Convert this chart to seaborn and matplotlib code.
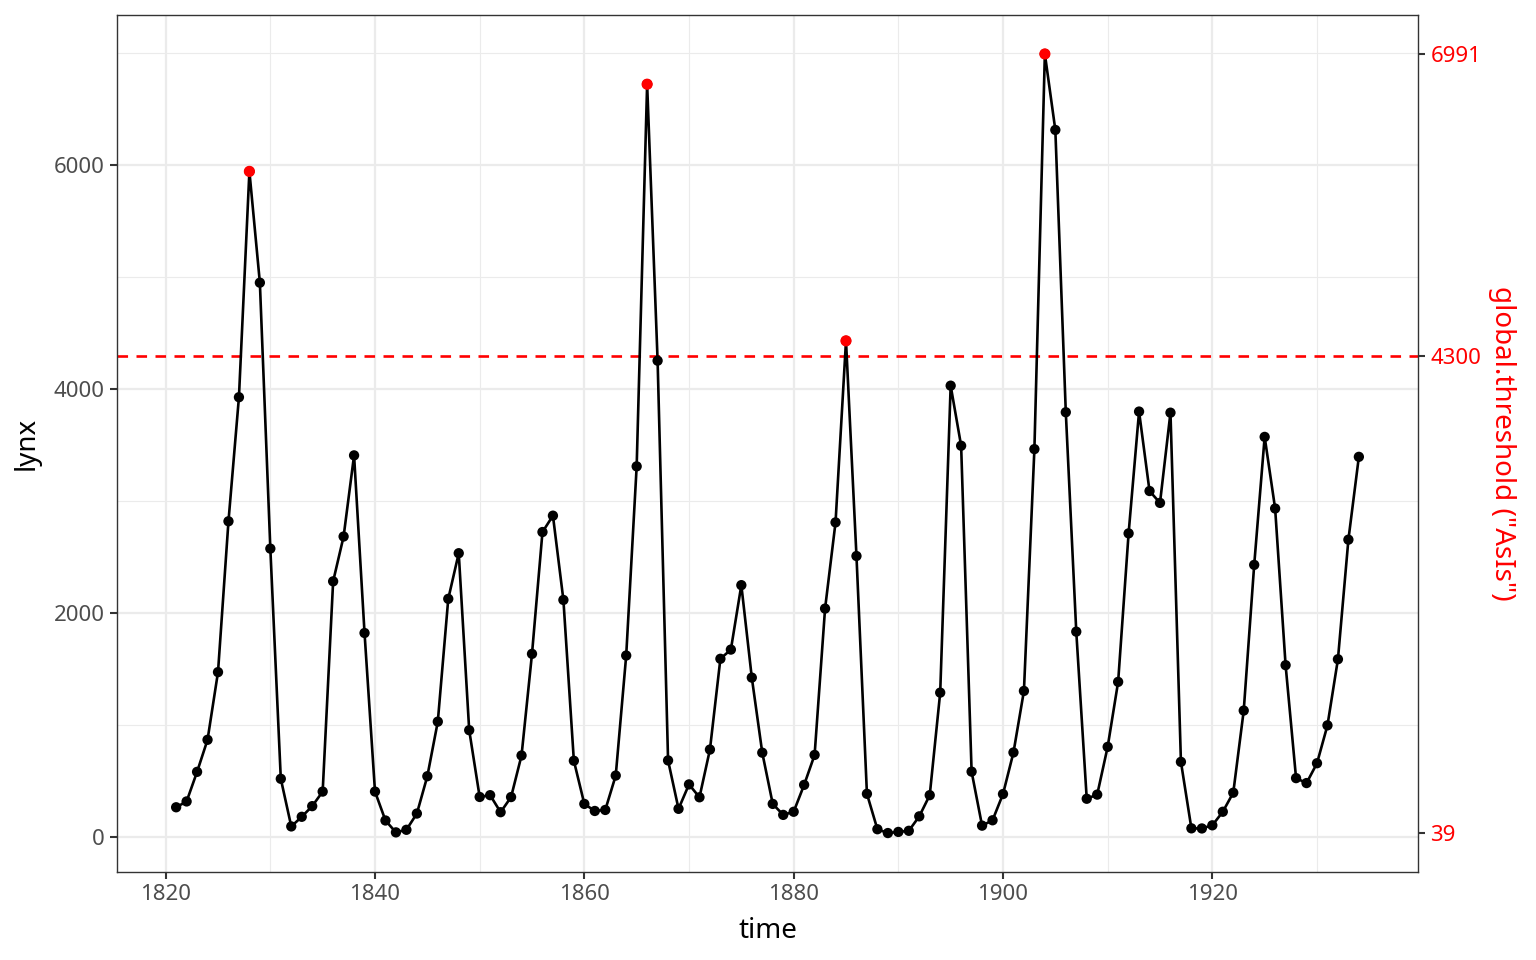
import numpy as np
import pandas as pd
import matplotlib
matplotlib.use("Agg")
import matplotlib.pyplot as plt
from matplotlib.ticker import FixedLocator
import seaborn as sns

years = list(range(1821, 1935))
lynx = [269, 321, 585, 871, 1475, 2821, 3928, 5943, 4950, 2577, 523, 98, 184, 279, 409,
        2285, 2685, 3409, 1824, 409, 151, 45, 68, 213, 546, 1033, 2129, 2536, 957, 361,
        377, 225, 360, 731, 1638, 2725, 2871, 2119, 684, 299, 236, 245, 552, 1623, 3311,
        6721, 4254, 687, 255, 473, 358, 784, 1594, 1676, 2251, 1426, 756, 299, 201, 229,
        469, 736, 2042, 2811, 4431, 2511, 389, 73, 39, 49, 59, 188, 377, 1292, 4031,
        3495, 587, 105, 153, 387, 758, 1307, 3465, 6991, 6313, 3794, 1836, 345, 382, 808,
        1388, 2713, 3800, 3091, 2985, 3790, 674, 81, 80, 108, 229, 399, 1132, 2432, 3574,
        2935, 1537, 529, 485, 662, 1000, 1590, 2657, 3396]
peak_years = [1828, 1866, 1885, 1904]
threshold = 4300
right_ticks = [39, 4300, 6991]
x_ticks = [1820, 1840, 1860, 1880, 1900, 1920]
y_ticks = [0, 2000, 4000, 6000]

df = pd.DataFrame({"time": years, "lynx": lynx})
peaks = df[df["time"].isin(peak_years)]

sns.set_theme(style="white")
plt.rcParams["font.family"] = ["Noto Sans", "DejaVu Sans"]

fig = plt.figure(figsize=(15.36, 9.6), dpi=100)
ax = fig.add_axes([117/1536, 1-872/960, (1418-117)/1536, (872-15)/960])

xmin, xmax = min(years), max(years)
xr = xmax - xmin
ymin, ymax = min(lynx), max(lynx)
yr = ymax - ymin
ax.set_xlim(xmin - 0.05*xr, xmax + 0.05*xr)
ax.set_ylim(ymin - 0.05*yr, ymax + 0.05*yr)

ax.xaxis.set_major_locator(FixedLocator(x_ticks))
ax.yaxis.set_major_locator(FixedLocator(y_ticks))
ax.xaxis.set_minor_locator(FixedLocator([1830, 1850, 1870, 1890, 1910, 1930]))
ax.yaxis.set_minor_locator(FixedLocator([1000, 3000, 5000, 7000]))
ax.grid(True, which="major", color="#EBEBEB", linewidth=1.6, zorder=0)
ax.grid(True, which="minor", color="#EBEBEB", linewidth=0.8, zorder=0)
ax.set_axisbelow(True)

ax.axhline(threshold, color="red", linestyle=(0, (4, 3.2)), linewidth=1.9, zorder=1)
sns.lineplot(data=df, x="time", y="lynx", ax=ax, color="black", linewidth=1.9, zorder=2)
sns.scatterplot(data=df, x="time", y="lynx", ax=ax, color="black", s=55, edgecolor="none", zorder=3)
sns.scatterplot(data=peaks, x="time", y="lynx", ax=ax, color="red", s=65, edgecolor="none", zorder=4)

for sp in ax.spines.values():
    sp.set_visible(True)
    sp.set_color("#333333")
    sp.set_linewidth(1.0)

ax.tick_params(axis="both", which="major", length=5, width=1.5, color="#333333",
               labelsize=16, labelcolor="#4D4D4D", pad=4, direction="out",
               bottom=True, left=True)
ax.tick_params(axis="both", which="minor", length=0)
ax.set_xlabel("time", fontsize=20, color="black", labelpad=8)
ax.set_ylabel("lynx", fontsize=20, color="black", labelpad=9)

ax2 = ax.twinx()
ax2.set_ylim(ax.get_ylim())
ax2.yaxis.set_major_locator(FixedLocator(right_ticks))
ax2.set_yticklabels([str(t) for t in right_ticks])
ax2.tick_params(axis="y", length=5, width=1.5, color="#333333", labelsize=16,
                labelcolor="red", pad=4, right=True)
for sp in ax2.spines.values():
    sp.set_visible(False)
ax2.grid(False)
ax2.set_ylabel('global.threshold ("AsIs")', fontsize=20, color="red",
               rotation=-90, labelpad=25)

fig.savefig("out.png", dpi=100, facecolor="white")
